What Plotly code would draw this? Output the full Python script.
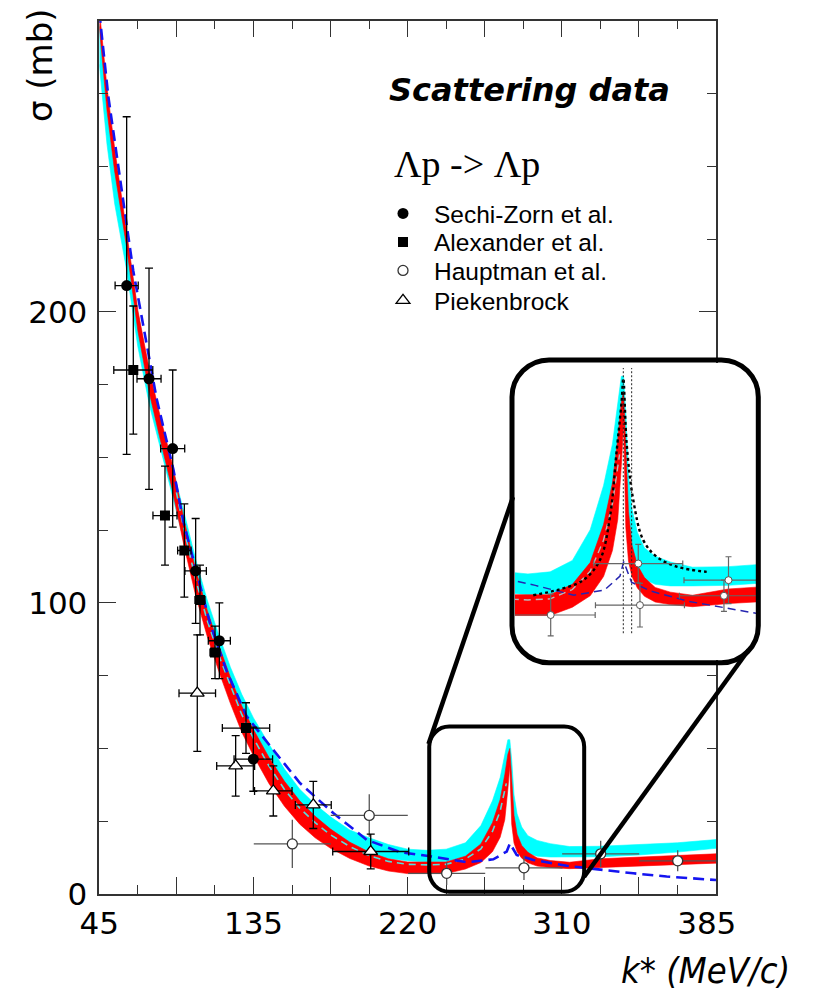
import plotly.graph_objects as go

W, H = 815, 995

# ---------------- axis labelling ----------------
# horizontal variable: laboratory momentum p_lab (MeV/c); tick labels show k* (MeV/c)
xlabel_pos = [100, 300, 500, 700, 888]
xlabel_txt = ["45", "135", "220", "310", "385"]
xmajor = [100, 200, 300, 400, 500, 600, 700, 800, 900]
ylabel_vals = [0, 100, 200]
ylabel_txt = ["0", "100", "200"]

# ---------------- measurements ----------------
sz_p = [135.5, 164.5, 195.2, 225.0, 255.7, 299.8]
sz_sig = [209, 177, 153, 111, 87, 46.3]
sz_dp = [15, 15.6, 15.6, 13.9, 14.3, 25]
sz_ds = [58, 38, 27, 18, 13, 11]

al_p = [144.1, 185.2, 210.3, 230.6, 250.1, 290.3]
al_sig = [180, 130, 118, 101, 83, 57]
al_dp = [25.3, 15.6, 8.7, 6.5, 6.5, 30.7]
al_ds = [22, 17, 16, 12, 9, 8.7]

hm_p = [350.4, 450.2, 550.6, 650.9, 750.4, 850.3]
hm_sig = [17.2, 27.0, 7.1, 9.0, 13.8, 11.4]
hm_dp = [50, 50, 50, 50, 50, 50]
hm_ds = [8.3, 7.3, 4.0, 4.2, 4.5, 3.6]

pk_p = [227.1, 276.9, 325.7, 377.6, 452.1]
pk_sig = [69, 44, 35.4, 30.6, 14.6]
pk_dp = [23.7, 24.6, 24.3, 23.3, 49.3]
pk_ds = [20, 10.4, 8.6, 8.1, 6.0]

# extra points visible only in the magnified inset
ins_p = [649.0, 745.3]
ins_sig = [17.0, 10.8]
ins_dp = [50, 50]
ins_ds = [3.7, 3.0]

# ---------------- theory bands / curves ----------------
grid_p = [100, 110, 120, 135, 150, 165, 180, 195, 210, 225, 240, 255, 270, 285, 300,
          320, 340, 360, 380, 400, 425, 450, 475, 500, 525, 550, 575, 595, 610, 620,
          626, 630, 632.5, 635, 638, 642, 648, 656, 668, 685, 710, 750, 800, 850, 900]
red_lo = [298, 269, 248, 223, 193.5, 172, 155, 138.5, 119.5, 102.5, 88.5, 76.5, 65.5, 55.5, 47.5,
          38, 30.2, 24, 19.3, 15.7, 12.2, 9.6, 7.9, 7.0, 7.0, 7.0, 8.6, 10.8, 14.5, 19.5,
          25.5, 36, 44, 24, 17.5, 14.5, 12.3, 10.7, 9.6, 9.1, 8.7, 9.3, 9.8, 10.1, 10.6]
red_hi = [304, 277, 256, 229, 200.5, 180, 163, 147.5, 128.5, 111.5, 97.5, 85.5, 74.5, 64.5, 56.5,
          47, 38.8, 32, 26.7, 22.3, 17.8, 14.4, 12.1, 11.0, 11.0, 11.0, 13.0, 17.2, 24.5, 32.5,
          41, 48, 50, 38, 27, 20.5, 16.7, 14.3, 12.4, 11.5, 10.9, 12.1, 12.6, 13.3, 13.8]
cyan_lo = [285, 257.5, 237, 215, 188, 168, 152, 137, 121, 105, 91, 79, 68, 58.5, 50.5,
           41.5, 34, 28, 23.2, 19.5, 16, 13.7, 12.2, 11.4, 11.0, 11.2, 12.6, 16, 22, 28,
           34, 41, 49, 32, 24, 18.5, 16, 14, 13, 12.7, 12.7, 12.8, 13.4, 14.4, 15.7]
cyan_hi = [299, 268.5, 249, 227, 200, 178, 162, 147, 131, 115, 101, 89, 78, 68.5, 60.5,
           51.5, 43, 36, 30.8, 26.5, 22, 19.3, 17.0, 15.4, 15.0, 15.4, 17.6, 23.5, 32, 40,
           48, 53, 53, 46, 34, 27.5, 23, 20, 18.4, 17.3, 16.3, 16.4, 17, 17.6, 18.7]

cd_p = [200, 210, 225, 240, 255, 270, 285, 300, 320, 340, 360, 380, 400, 425, 450, 475,
        500, 525, 550, 575, 595, 610, 620, 628]
cd_sig = [138, 125, 108, 94, 82, 71.5, 61.5, 53.5, 44, 36, 29.5, 24.5, 20.3, 16.3, 13.2, 11.2,
          10.2, 10.0, 10.2, 12, 15.5, 21.5, 28.5, 38]

blue_p = [100, 111.7, 137.6, 144.1, 174.5, 196, 209, 243.6, 265.3, 291.2, 325.7, 360.3, 403.5,
          446.9, 490, 533.3, 576.6, 611.1, 628.5, 632.7, 641.4, 663, 706.3, 749.5, 792.7, 836, 900]
blue_sig = [303, 274, 226, 214, 170, 146, 128, 93, 76.5, 61, 49.5, 38.1, 27.8,
            18.6, 14.4, 12.8, 10.9, 11.9, 14.6, 17.4, 13.4, 11.7, 9.7, 8.3, 7.1, 6.0, 4.8]

dot_p = [531.0, 560.0, 587.2, 606.0, 617.2, 624.8, 630.4, 632.2, 636.0, 643.4, 654.6, 669.7, 692.2, 725.9]
dot_sig = [10.9, 12.0, 13.8, 17.7, 26.0, 38.8, 48.4, 52.6, 40.0, 29.2, 21.5, 18.3, 16.4, 15.4]

thr_p = [632.2, 641.6]
thr_sig = [3.6, 54.6]

RED = "#ff0000"
CYAN = "#00ffff"
BLUE = "#1414f0"
AX = "#333333"

fig = go.Figure()


def band(x, lo, hi, color, xa, ya):
    xs = list(x) + list(x)[::-1]
    ys = list(hi) + list(lo)[::-1]
    return go.Scatter(x=xs, y=ys, fill="toself", fillcolor=color, mode="lines",
                      line=dict(width=0.6, color=color), hoverinfo="skip",
                      showlegend=False, xaxis=xa, yaxis=ya)


# ---------- main panel ----------
fig.add_trace(band(grid_p, cyan_lo, cyan_hi, CYAN, "x", "y"))
fig.add_trace(band(grid_p, red_lo, red_hi, RED, "x", "y"))
fig.add_trace(go.Scatter(x=cd_p, y=cd_sig, mode="lines", showlegend=False,
                         line=dict(color="#55dede", width=1.6, dash="7px,5px"), xaxis="x", yaxis="y"))
fig.add_trace(go.Scatter(x=blue_p, y=blue_sig, mode="lines", showlegend=False,
                         line=dict(color=BLUE, width=2.6, dash="11px,6px"), xaxis="x", yaxis="y"))

errk = dict(color="black", thickness=1.3, width=4)
fig.add_trace(go.Scatter(x=hm_p, y=hm_sig, mode="markers", name="Hauptman et al.",
                         legend="legend3",
                         marker=dict(symbol="circle", size=10, color="white",
                                     line=dict(color="#333333", width=1.3)),
                         error_x=dict(array=hm_dp, color="#555555", thickness=1.3, width=0),
                         error_y=dict(array=hm_ds, color="#555555", thickness=1.3, width=0),
                         xaxis="x", yaxis="y"))
fig.add_trace(go.Scatter(x=pk_p, y=pk_sig, mode="markers", name="Piekenbrock",
                         legend="legend4",
                         marker=dict(symbol="triangle-up", size=12, color="white",
                                     line=dict(color="black", width=1.3)),
                         error_x=dict(array=pk_dp, **errk), error_y=dict(array=pk_ds, **errk),
                         xaxis="x", yaxis="y"))
fig.add_trace(go.Scatter(x=al_p, y=al_sig, mode="markers", name="Alexander et al.",
                         legend="legend2",
                         marker=dict(symbol="square", size=10, color="black"),
                         error_x=dict(array=al_dp, **errk), error_y=dict(array=al_ds, **errk),
                         xaxis="x", yaxis="y"))
fig.add_trace(go.Scatter(x=sz_p, y=sz_sig, mode="markers", name="Sechi-Zorn et al.",
                         legend="legend",
                         marker=dict(symbol="circle", size=11, color="black"),
                         error_x=dict(array=sz_dp, **errk), error_y=dict(array=sz_ds, **errk),
                         xaxis="x", yaxis="y"))
# axis that only carries the k* tick labels
fig.add_trace(go.Scatter(x=[], y=[], xaxis="x3", yaxis="y", showlegend=False))

# ---------- inset ----------
fig.add_trace(band(grid_p, cyan_lo, cyan_hi, CYAN, "x2", "y2"))
fig.add_trace(band(grid_p, red_lo, red_hi, RED, "x2", "y2"))
fig.add_trace(go.Scatter(x=cd_p, y=cd_sig, mode="lines", showlegend=False,
                         line=dict(color="#bbbbbb", width=1.4, dash="7px,5px"), xaxis="x2", yaxis="y2"))
fig.add_trace(go.Scatter(x=blue_p, y=blue_sig, mode="lines", showlegend=False,
                         line=dict(color="#2525b0", width=1.5, dash="8px,5px"), xaxis="x2", yaxis="y2"))
fig.add_trace(go.Scatter(x=dot_p, y=dot_sig, mode="lines", showlegend=False,
                         line=dict(color="black", width=2.4, dash="dot", shape="spline"),
                         xaxis="x2", yaxis="y2"))
for tp in thr_p:
    fig.add_trace(go.Scatter(x=[tp, tp], y=thr_sig, mode="lines", showlegend=False,
                             line=dict(color="#222222", width=1, dash="2px,2px"),
                             xaxis="x2", yaxis="y2"))
errg = dict(color="#666666", thickness=1.2, width=3)
fig.add_trace(go.Scatter(x=hm_p + ins_p, y=hm_sig + ins_sig, mode="markers", showlegend=False,
                         marker=dict(symbol="circle", size=7, color="white",
                                     line=dict(color="#555555", width=1)),
                         error_x=dict(array=hm_dp + ins_dp, **errg),
                         error_y=dict(array=hm_ds + ins_ds, **errg),
                         xaxis="x2", yaxis="y2"))


# ---------- decorations ----------
def rounded(x0, y0, x1, y1, rx, ry):
    k = 0.5523
    return (f"M {x0 + rx},{y0} L {x1 - rx},{y0} "
            f"C {x1 - rx + k * rx},{y0} {x1},{y0 + ry - k * ry} {x1},{y0 + ry} "
            f"L {x1},{y1 - ry} "
            f"C {x1},{y1 - ry + k * ry} {x1 - rx + k * rx},{y1} {x1 - rx},{y1} "
            f"L {x0 + rx},{y1} "
            f"C {x0 + rx - k * rx},{y1} {x0},{y1 - ry + k * ry} {x0},{y1 - ry} "
            f"L {x0},{y0 + ry} "
            f"C {x0},{y0 + ry - k * ry} {x0 + rx - k * rx},{y0} {x0 + rx},{y0} Z")


def px(v):
    return v / W


def py(v):
    return 1 - v / H


shapes = []
# small box around the cusp (data coordinates)
shapes.append(dict(type="path", xref="x", yref="y", layer="above",
                   path=rounded(528, 0.8, 729, 57.5, 26, 6.9),
                   line=dict(color="black", width=4)))
# big inset frame (paper)
shapes.append(dict(type="path", xref="paper", yref="paper", layer="above",
                   path=rounded(px(512), py(662.7), px(758.3), py(360), 37 / W, 37 / H),
                   line=dict(color="black", width=5)))
shapes.append(dict(type="line", xref="paper", yref="paper", layer="above",
                   x0=px(428.5), y0=py(744), x1=px(513), y1=py(497),
                   line=dict(color="black", width=4.5)))
shapes.append(dict(type="line", xref="paper", yref="paper", layer="above",
                   x0=px(584), y0=py(877), x1=px(748.5), y1=py(650),
                   line=dict(color="black", width=4.5)))

ann = [
    dict(text="σ (mb)", x=px(40), y=py(6), xref="paper", yref="paper", xanchor="center",
         yanchor="top", textangle=-90, showarrow=False,
         font=dict(family="DejaVu Sans", size=34, color="black")),
    dict(text="k* (MeV/c)", x=px(792), y=py(970), xref="paper", yref="paper", xanchor="right",
         yanchor="middle", showarrow=False,
         font=dict(family="DejaVu Sans Condensed, DejaVu Sans", size=36, color="black",
                   style="italic")),
    dict(text="Scattering data", x=px(387), y=py(90), xref="paper", yref="paper",
         xanchor="left", yanchor="middle", showarrow=False,
         font=dict(family="DejaVu Sans", size=32, color="black", weight="bold", style="italic")),
    dict(text="Λp -> Λp", x=px(392), y=py(164), xref="paper", yref="paper",
         xanchor="left", yanchor="middle", showarrow=False,
         font=dict(family="Liberation Serif", size=38, color="black")),
]

legfont = dict(family="Liberation Sans, Arial", size=24.5, color="black")


def leg(yc):
    return dict(x=px(372), y=py(yc), xanchor="left", yanchor="middle", bgcolor="rgba(0,0,0,0)",
                borderwidth=0, font=legfont, itemwidth=52)


tickfont = dict(family="DejaVu Sans", size=31, color="black")

fig.update_layout(
    width=W, height=H, margin=dict(l=0, r=0, t=0, b=0, autoexpand=False),
    paper_bgcolor="white", plot_bgcolor="white",
    shapes=shapes, annotations=ann,
    legend=leg(213.5), legend2=leg(242), legend3=leg(270.5), legend4=leg(300.5),
    xaxis=dict(domain=[px(99.3), px(716)], range=[100, 900], anchor="y",
               showgrid=False, zeroline=False, showline=True, linecolor=AX, linewidth=1.5,
               mirror="ticks", ticks="inside", tickvals=xmajor, ticklen=17, tickwidth=1.3,
               tickcolor=AX, showticklabels=False,
               minor=dict(tickmode="linear", tick0=150, dtick=100, ticks="inside",
                          ticklen=9, tickwidth=1.3, tickcolor=AX, showgrid=False)),
    xaxis3=dict(overlaying="x", anchor="y", side="bottom", range=[100, 900],
                tickvals=xlabel_pos, ticktext=xlabel_txt, ticks="", showline=False,
                showgrid=False, zeroline=False, tickfont=tickfont, ticklabelstandoff=8),
    yaxis=dict(domain=[py(894), py(20.7)], range=[0, 300], anchor="x",
               showgrid=False, zeroline=False, showline=True, linecolor=AX, linewidth=1.5,
               mirror="ticks", ticks="inside", tickvals=ylabel_vals, ticktext=ylabel_txt,
               ticklen=17, tickwidth=1.3, tickcolor=AX, tickfont=tickfont, ticklabelstandoff=4,
               minor=dict(tickmode="linear", tick0=25, dtick=25, ticks="inside",
                          ticklen=9, tickwidth=1.3, tickcolor=AX, showgrid=False)),
    xaxis2=dict(domain=[px(515), px(756)], range=[510.5, 781.3], anchor="y2", visible=False),
    yaxis2=dict(domain=[py(660), py(363)], range=[-1.55, 55.56], anchor="x2", visible=False),
)

fig.write_html("out.html")
